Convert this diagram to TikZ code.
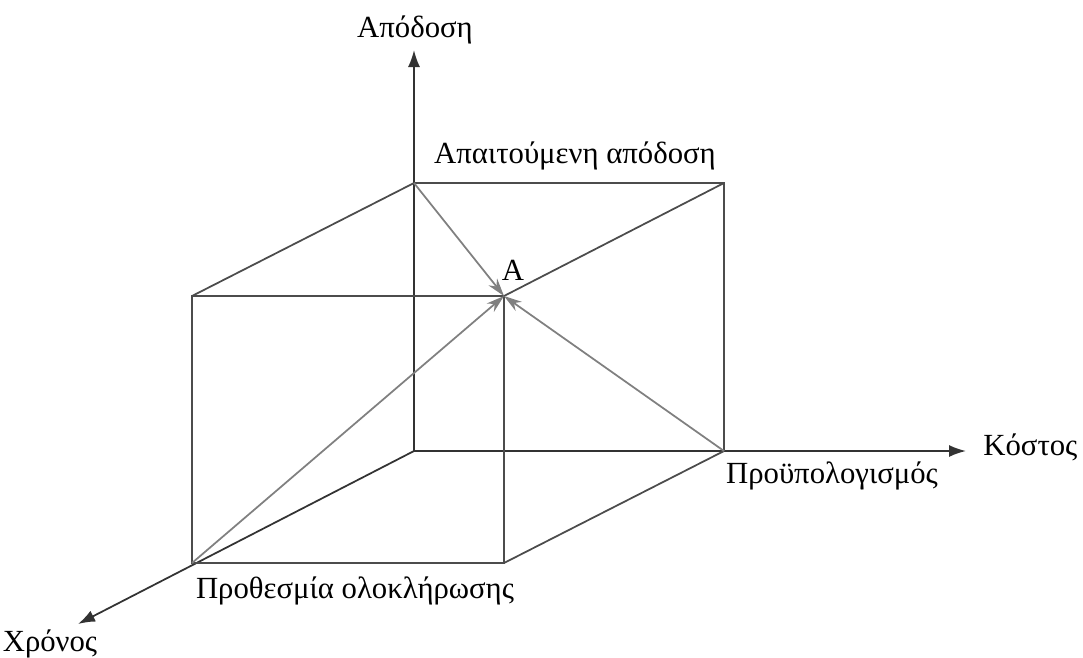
\documentclass[tikz,border=0pt]{standalone}
\usepackage{fontspec}
\setmainfont{Liberation Serif}
\usetikzlibrary{arrows.meta}

\begin{document}
\begin{tikzpicture}[
    x=0.02cm, y=-0.02cm,
    edge/.style={draw=black!70, line width=1pt},
    axis/.style={-{Latex[length=3.4mm, width=2.4mm]}, draw=black!80, line width=1pt},
    toA/.style={-{Stealth[length=3.6mm, width=2.2mm]}, draw=black!50, line width=1pt},
    lbl/.style={font=\fontsize{17.5}{20}\selectfont, inner sep=0pt}
]
    \useasboundingbox (0,0) rectangle (1083,657);

    % Corners of the cube
    \coordinate (O) at (414,451);
    \coordinate (P) at (414,183);
    \coordinate (PR) at (724,183);
    \coordinate (C) at (724,451);
    \coordinate (FL) at (192,296);
    \coordinate (A) at (504,296);
    \coordinate (FR) at (504,563);
    \coordinate (T) at (192,563);

    % Axis ends
    \coordinate (yend) at (414,50);
    \coordinate (xend) at (966,451);
    \coordinate (zend) at (78,624);

    % Axes
    \draw[axis] (O) -- (yend);
    \draw[axis] (O) -- (xend);
    \draw[axis] (O) -- (zend);

    % Cube edges
    \draw[edge] (P) -- (PR) -- (C);
    \draw[edge] (FL) -- (A) -- (FR) -- (T) -- cycle;
    \draw[edge] (FL) -- (P);
    \draw[edge] (A) -- (PR);
    \draw[edge] (FR) -- (C);

    % Arrows towards A
    \draw[toA] (P) -- (A);
    \draw[toA] (T) -- (A);
    \draw[toA] (C) -- (A);

    % Labels
    \node[lbl] (perf) at (415,30) {Απόδοση};
    \node[lbl] (reqperf) at (575,156) {Απαιτούμενη απόδοση};
    \node[lbl] (pointA) at (513,270) {Α};
    \node[lbl, anchor=west] (cost) at (983,447) {Κόστος};
    \node[lbl] (budget) at (832,476) {Προϋπολογισμός};
    \node[lbl] (deadline) at (355,591) {Προθεσμία ολοκλήρωσης};
    \node[lbl] (time) at (50,644) {Χρόνος};
\end{tikzpicture}
\end{document}
